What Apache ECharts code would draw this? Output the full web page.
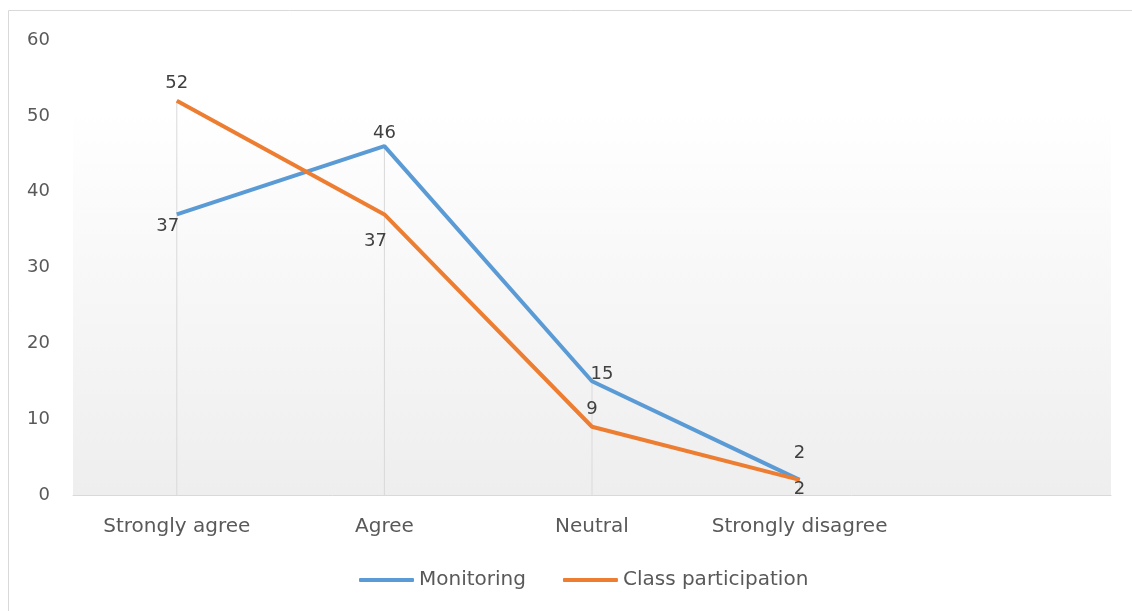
<!DOCTYPE html>
<html>
<head>
<meta charset="utf-8">
<style>
  html, body { margin: 0; padding: 0; background: #fff; }
  #main { width: 1132px; height: 611px; }
</style>
</head>
<body>
<div id="main"></div>
<script src="https://cdn.jsdelivr.net/npm/echarts@6/dist/echarts.min.js"></script>
<script type="text/javascript">
// categories (the last slot is left empty, as in the original sheet)
var categories = ['Strongly agree', 'Agree', 'Neutral', 'Strongly disagree', ''];
var monitoring = [37, 46, 15, 2];
var classParticipation = [52, 37, 9, 2];
var yTicks = [0, 10, 20, 30, 40, 50, 60];

// label placement, offsets from the point
var monitoringLabelOffset = [[-9, 12], [0, -13], [10, -7], [0, -27]];
var classLabelOffset = [[0, -17], [-9, 27], [0, -17], [0, 9]];

// drop lines go from the highest point down to the axis
var dropLines = monitoring.map(function (v, i) {
    return Math.max(v, classParticipation[i]);
});

function withLabels(values, offsets) {
    return values.map(function (v, i) {
        return { value: v, label: { offset: offsets[i] } };
    });
}

var myChart = echarts.init(document.getElementById('main'));

var textFont = '"DejaVu Sans", "Open Sans", sans-serif';

option = {
    backgroundColor: '#fff',
    animation: false,
    textStyle: { fontFamily: textFont },
    graphic: [{
        type: 'rect',
        shape: { x: 8.5, y: 10.5, width: 1200, height: 700 },
        style: { fill: 'none', stroke: '#d9d9d9', lineWidth: 1 },
        silent: true
    }],
    grid: {
        left: 73,
        right: 21,
        top: 40,
        bottom: 116,
        show: true,
        borderWidth: 0,
        backgroundColor: new echarts.graphic.LinearGradient(0, 0, 0, 1, [
            { offset: 0, color: '#ffffff' },
            { offset: 0.15, color: '#ffffff' },
            { offset: 1, color: '#eeeeee' }
        ])
    },
    legend: {
        data: ['Monitoring', 'Class participation'],
        bottom: 16,
        left: 354,
        itemWidth: 55,
        itemHeight: 4,
        itemGap: 37,
        icon: 'roundRect',
        textStyle: { fontSize: 20, color: '#595959', fontFamily: textFont }
    },
    xAxis: {
        type: 'category',
        data: categories,
        boundaryGap: true,
        axisLine: { lineStyle: { color: '#d9d9d9', width: 1 } },
        axisTick: { show: false },
        axisLabel: { color: '#595959', fontSize: 20, margin: 22, interval: 0 }
    },
    yAxis: {
        type: 'value',
        min: yTicks[0],
        max: yTicks[yTicks.length - 1],
        interval: 10,
        axisLine: { show: false },
        axisTick: { show: false },
        splitLine: { show: false },
        axisLabel: { color: '#595959', fontSize: 18, margin: 23 }
    },
    series: [
        {
            name: 'drop',
            type: 'bar',
            data: dropLines,
            barWidth: 1,
            barGap: '-100%',
            itemStyle: { color: '#d9d9d9' },
            silent: true,
            z: 1
        },
        {
            name: 'Monitoring',
            type: 'line',
            data: withLabels(monitoring, monitoringLabelOffset),
            symbol: 'circle',
            symbolSize: 0.1,
            showSymbol: true,
            lineStyle: { color: '#5b9bd5', width: 4 },
            itemStyle: { color: '#5b9bd5' },
            label: { show: true, position: 'inside', fontSize: 18, color: '#404040' },
            z: 3
        },
        {
            name: 'Class participation',
            type: 'line',
            data: withLabels(classParticipation, classLabelOffset),
            symbol: 'circle',
            symbolSize: 0.1,
            showSymbol: true,
            lineStyle: { color: '#ed7d31', width: 4 },
            itemStyle: { color: '#ed7d31' },
            label: { show: true, position: 'inside', fontSize: 18, color: '#404040' },
            z: 4
        }
    ]
};

myChart.setOption(option);
</script>
</body>
</html>
